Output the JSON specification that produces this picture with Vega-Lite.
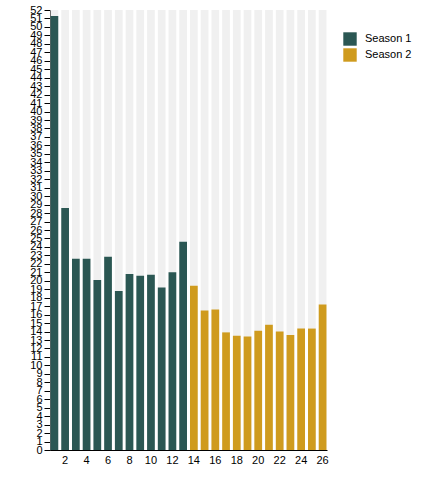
{
  "$schema": "https://vega.github.io/schema/vega-lite/v6.json",
  "autosize": {"type": "none"},
  "width": 277,
  "height": 440,
  "padding": {"left": 50, "top": 10, "right": 98, "bottom": 50},
  "config": {
    "view": {"stroke": null},
    "font": "Liberation Sans",
    "axis": {"labelFont": "Liberation Sans", "labelColor": "#000", "domainColor": "#000", "tickColor": "#000", "grid": false, "title": null},
    "legend": {"labelFont": "Liberation Sans", "labelFontSize": 11, "labelColor": "#000"}
  },
  "data": {
    "values": [
      {"episode": 1, "season": "Season 1", "viewers": 51.3},
      {"episode": 2, "season": "Season 1", "viewers": 28.6},
      {"episode": 3, "season": "Season 1", "viewers": 22.6},
      {"episode": 4, "season": "Season 1", "viewers": 22.6},
      {"episode": 5, "season": "Season 1", "viewers": 20.1},
      {"episode": 6, "season": "Season 1", "viewers": 22.85},
      {"episode": 7, "season": "Season 1", "viewers": 18.8},
      {"episode": 8, "season": "Season 1", "viewers": 20.8},
      {"episode": 9, "season": "Season 1", "viewers": 20.6},
      {"episode": 10, "season": "Season 1", "viewers": 20.7},
      {"episode": 11, "season": "Season 1", "viewers": 19.2},
      {"episode": 12, "season": "Season 1", "viewers": 21.0},
      {"episode": 13, "season": "Season 1", "viewers": 24.6},
      {"episode": 14, "season": "Season 2", "viewers": 19.4},
      {"episode": 15, "season": "Season 2", "viewers": 16.5},
      {"episode": 16, "season": "Season 2", "viewers": 16.6},
      {"episode": 17, "season": "Season 2", "viewers": 13.9},
      {"episode": 18, "season": "Season 2", "viewers": 13.5},
      {"episode": 19, "season": "Season 2", "viewers": 13.4},
      {"episode": 20, "season": "Season 2", "viewers": 14.1},
      {"episode": 21, "season": "Season 2", "viewers": 14.8},
      {"episode": 22, "season": "Season 2", "viewers": 14.0},
      {"episode": 23, "season": "Season 2", "viewers": 13.6},
      {"episode": 24, "season": "Season 2", "viewers": 14.35},
      {"episode": 25, "season": "Season 2", "viewers": 14.35},
      {"episode": 26, "season": "Season 2", "viewers": 17.2}
    ]
  },
  "encoding": {
    "x": {
      "field": "episode",
      "type": "ordinal",
      "scale": {"paddingInner": 0.28, "paddingOuter": 0.05},
      "axis": {"labelAngle": 0, "ticks": false, "labelFontSize": 11, "labelPadding": 4, "labelExpr": "datum.value % 2 == 0 ? datum.label : ''"}
    }
  },
  "layer": [
    {
      "mark": {"type": "bar", "color": "#f0f0f0"},
      "encoding": {
        "y": {
          "datum": 52,
          "type": "quantitative",
          "scale": {"domain": [0, 52], "nice": false},
          "axis": {"values": [0,1,2,3,4,5,6,7,8,9,10,11,12,13,14,15,16,17,18,19,20,21,22,23,24,25,26,27,28,29,30,31,32,33,34,35,36,37,38,39,40,41,42,43,44,45,46,47,48,49,50,51,52], "labelFontSize": 11, "tickSize": 6, "labelPadding": 2, "labelOverlap": false, "labelBound": false, "labelFlush": false}
        }
      }
    },
    {
      "mark": {"type": "bar"},
      "encoding": {
        "y": {
          "field": "viewers",
          "type": "quantitative",
          "scale": {"domain": [0, 52], "nice": false},
          "axis": {"values": [0,1,2,3,4,5,6,7,8,9,10,11,12,13,14,15,16,17,18,19,20,21,22,23,24,25,26,27,28,29,30,31,32,33,34,35,36,37,38,39,40,41,42,43,44,45,46,47,48,49,50,51,52], "labelFontSize": 11, "tickSize": 6, "labelPadding": 2, "labelOverlap": false, "labelBound": false, "labelFlush": false}
        },
        "color": {
          "field": "season",
          "type": "nominal",
          "title": null,
          "scale": {"domain": ["Season 1", "Season 2"], "range": ["#2b5753", "#cf9b1e"]},
          "legend": {"orient": "none", "legendX": 293, "legendY": 22, "symbolType": "square", "symbolSize": 180, "symbolStrokeWidth": 0, "labelOffset": 8}
        }
      }
    }
  ]
}
